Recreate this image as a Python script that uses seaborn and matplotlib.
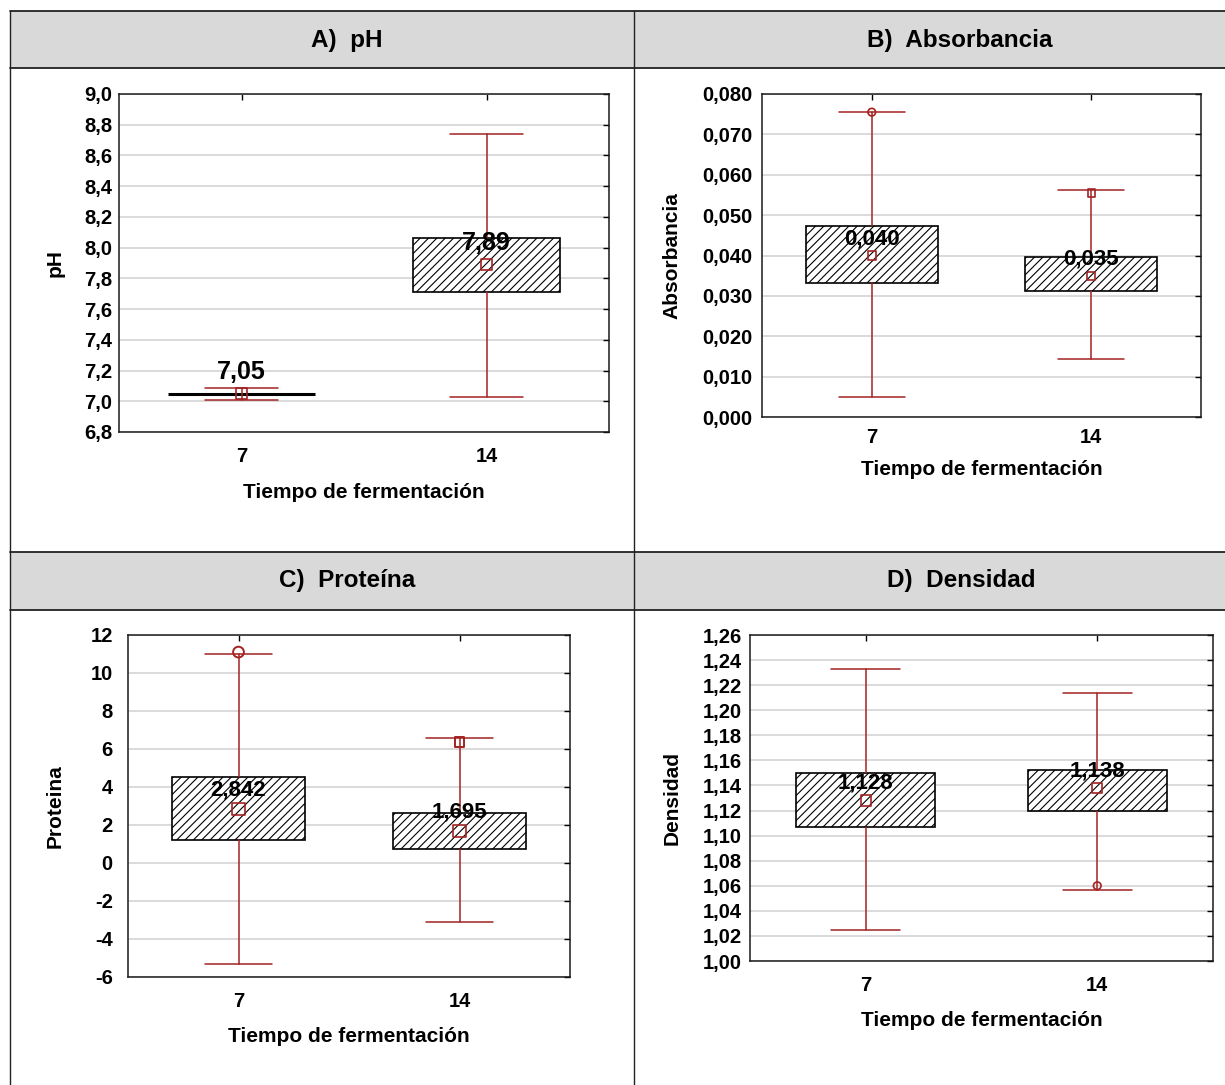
import matplotlib
matplotlib.use("Agg")
import matplotlib.pyplot as plt
from matplotlib.lines import Line2D
from matplotlib.patches import Rectangle
import seaborn as sns

# ---- data -------------------------------------------------------------
categories = ["7", "14"]

ph_mean = [7.05, 7.89]
ph_q1 = [7.05, 7.71]
ph_q3 = [7.05, 8.06]
ph_low = [7.01, 7.03]
ph_high = [7.085, 8.74]
ph_ticks = [6.8, 7.0, 7.2, 7.4, 7.6, 7.8, 8.0, 8.2, 8.4, 8.6, 8.8, 9.0]

abs_mean = [0.040, 0.035]
abs_q1 = [0.0332, 0.0312]
abs_q3 = [0.0473, 0.0397]
abs_low = [0.0050, 0.0144]
abs_high = [0.0755, 0.0562]
abs_ticks = [0.000, 0.010, 0.020, 0.030, 0.040, 0.050, 0.060, 0.070, 0.080]
abs_circle_x, abs_circle_y = [0], [0.0755]
abs_square_x, abs_square_y = [1], [0.0555]

prot_mean = [2.842, 1.695]
prot_q1 = [1.21, 0.74]
prot_q3 = [4.53, 2.63]
prot_low = [-5.32, -3.10]
prot_high = [11.0, 6.58]
prot_ticks = [-6, -4, -2, 0, 2, 4, 6, 8, 10, 12]
prot_circle_x, prot_circle_y = [0], [11.1]
prot_square_x, prot_square_y = [1], [6.37]

dens_mean = [1.128, 1.138]
dens_q1 = [1.107, 1.120]
dens_q3 = [1.150, 1.152]
dens_low = [1.025, 1.057]
dens_high = [1.233, 1.214]
dens_ticks = [1.00, 1.02, 1.04, 1.06, 1.08, 1.10, 1.12, 1.14, 1.16, 1.18,
              1.20, 1.22, 1.24, 1.26]
dens_circle_x, dens_circle_y = [1], [1.06]

titles = ["A)  pH", "B)  Absorbancia", "C)  Proteína", "D)  Densidad"]
xlabel = "Tiempo de fermentación"

# ---- style ------------------------------------------------------------
sns.set_style("white")
plt.rcParams["font.family"] = ["Liberation Sans", "DejaVu Sans"]
plt.rcParams["hatch.linewidth"] = 0.8
plt.rcParams["text.color"] = "black"
plt.rcParams["axes.labelcolor"] = "black"
plt.rcParams["xtick.color"] = "black"
plt.rcParams["ytick.color"] = "black"

RED = "#a32222"
W, H = 1225, 1085

fig = plt.figure(figsize=(W / 100, H / 100), dpi=100)


def fx(px):
    return px / W


def fy(py):
    return 1 - py / H


# table frame with grey header rows
for y0, y1 in [(11, 68), (552, 610)]:
    fig.add_artist(Rectangle((fx(10), fy(y1)), fx(W + 20), (y1 - y0) / H,
                             transform=fig.transFigure, facecolor="#d9d9d9",
                             edgecolor="none", zorder=0))
for y in [11, 68, 552, 610]:
    fig.add_artist(Line2D([fx(10), fx(W + 5)], [fy(y), fy(y)],
                          transform=fig.transFigure, color="#222222", lw=1.3))
for x in [10, 634]:
    fig.add_artist(Line2D([fx(x), fx(x)], [fy(11), fy(H + 5)],
                          transform=fig.transFigure, color="#222222", lw=1.0))

title_pos = [(347, 40), (960, 40), (347, 581), (961, 581)]
for t, (tx, ty) in zip(titles, title_pos):
    fig.text(fx(tx), fy(ty), t, ha="center", va="center", fontsize=17.5,
             fontweight="bold", color="black")


def make_axes(left, top, right, bottom):
    return fig.add_axes([fx(left), fy(bottom), (right - left) / W,
                         (bottom - top) / H])


def draw_panel(ax, mean, q1, q3, low, high, ticks, tick_dec, lab_dec,
               ylabel, mean_size, lab_size, lab_off, ylab_x, xlab_y,
               xpad, ypad):
    stats = [dict(med=m, q1=a, q3=b, whislo=lo, whishi=hi, mean=m, fliers=[])
             for m, a, b, lo, hi in zip(mean, q1, q3, low, high)]
    parts = ax.bxp(stats, positions=[0, 1], widths=0.6, capwidths=0.3,
                   patch_artist=True, showfliers=False, showmeans=False,
                   boxprops=dict(facecolor="white", edgecolor="black",
                                 linewidth=1.2, hatch="////"),
                   whiskerprops=dict(color=RED, linewidth=1.1),
                   capprops=dict(color=RED, linewidth=1.1),
                   medianprops=dict(linewidth=0))
    for box, a, b in zip(parts["boxes"], q1, q3):
        if a == b:
            box.set_linewidth(2.2)
    sns.scatterplot(x=[0, 1], y=mean, ax=ax, marker="s", s=mean_size,
                    facecolor="none", edgecolor=RED, linewidth=1.2,
                    zorder=5, legend=False)
    for i, m in enumerate(mean):
        ax.annotate(f"{m:.{lab_dec}f}".replace(".", ","), (i, m),
                    xytext=(0, lab_off), textcoords="offset points",
                    ha="center", va="center", fontsize=lab_size,
                    fontweight="bold", color="black", zorder=6)

    ax.set_xlim(-0.5, 1.5)
    ax.set_ylim(ticks[0], ticks[-1])
    ax.set_xticks([0, 1])
    ax.set_xticklabels(categories)
    ax.set_yticks(ticks)
    ax.set_yticklabels([f"{v:.{tick_dec}f}".replace(".", ",") for v in ticks])
    for lab in ax.get_xticklabels() + ax.get_yticklabels():
        lab.set_fontweight("bold")
    ax.tick_params(axis="both", direction="in", length=4, width=1.0,
                   top=True, right=True, labelsize=14.5, colors="black")
    ax.tick_params(axis="x", pad=xpad)
    ax.tick_params(axis="y", pad=ypad)
    ax.set_axisbelow(True)
    ax.yaxis.grid(True, color="#d8d8d8", linewidth=1.3)
    ax.xaxis.grid(False)
    for sp in ax.spines.values():
        sp.set_visible(True)
        sp.set_color("#1a1a1a")
        sp.set_linewidth(1.1)
    ax.set_xlabel(xlabel, fontsize=15, fontweight="bold", va="center",
                  color="black")
    ax.set_ylabel(ylabel, fontsize=15, fontweight="bold", va="center",
                  color="black")
    ax.xaxis.set_label_coords(0.5, xlab_y)
    ax.yaxis.set_label_coords(ylab_x, 0.5)


ax_a = make_axes(119, 94, 609, 432)
draw_panel(ax_a, ph_mean, ph_q1, ph_q3, ph_low, ph_high, ph_ticks, 1, 2,
           "pH", 55, 18, 15.5, -0.131, -0.18, 11, 5)

ax_b = make_axes(762, 94, 1201, 417)
draw_panel(ax_b, abs_mean, abs_q1, abs_q3, abs_low, abs_high, abs_ticks, 3, 3,
           "Absorbancia", 35, 16, 12, -0.205, -0.164, 8, 7)
sns.scatterplot(x=abs_circle_x, y=abs_circle_y, ax=ax_b, marker="o", s=30,
                facecolor="none", edgecolor=RED, linewidth=1.2, zorder=5,
                legend=False)
sns.scatterplot(x=abs_square_x, y=abs_square_y, ax=ax_b, marker="s", s=28,
                facecolor="none", edgecolor=RED, linewidth=1.2, zorder=5,
                legend=False)

ax_c = make_axes(128, 635, 570, 977)
draw_panel(ax_c, prot_mean, prot_q1, prot_q3, prot_low, prot_high, prot_ticks,
           0, 3, "Proteina", 75, 16, 13.5, -0.165, -0.173, 11, 11)
sns.scatterplot(x=prot_circle_x, y=prot_circle_y, ax=ax_c, marker="o", s=60,
                facecolor="none", edgecolor=RED, linewidth=1.4, zorder=5,
                legend=False)
sns.scatterplot(x=prot_square_x, y=prot_square_y, ax=ax_c, marker="s", s=50,
                facecolor="none", edgecolor=RED, linewidth=1.4, zorder=5,
                legend=False)

ax_d = make_axes(750, 635, 1213, 961)
draw_panel(ax_d, dens_mean, dens_q1, dens_q3, dens_low, dens_high, dens_ticks,
           2, 3, "Densidad", 55, 16, 12.5, -0.168, -0.181, 11, 6)
sns.scatterplot(x=dens_circle_x, y=dens_circle_y, ax=ax_d, marker="o", s=30,
                facecolor="none", edgecolor=RED, linewidth=1.2, zorder=5,
                legend=False)

fig.savefig("out.png", dpi=100, facecolor="white")
